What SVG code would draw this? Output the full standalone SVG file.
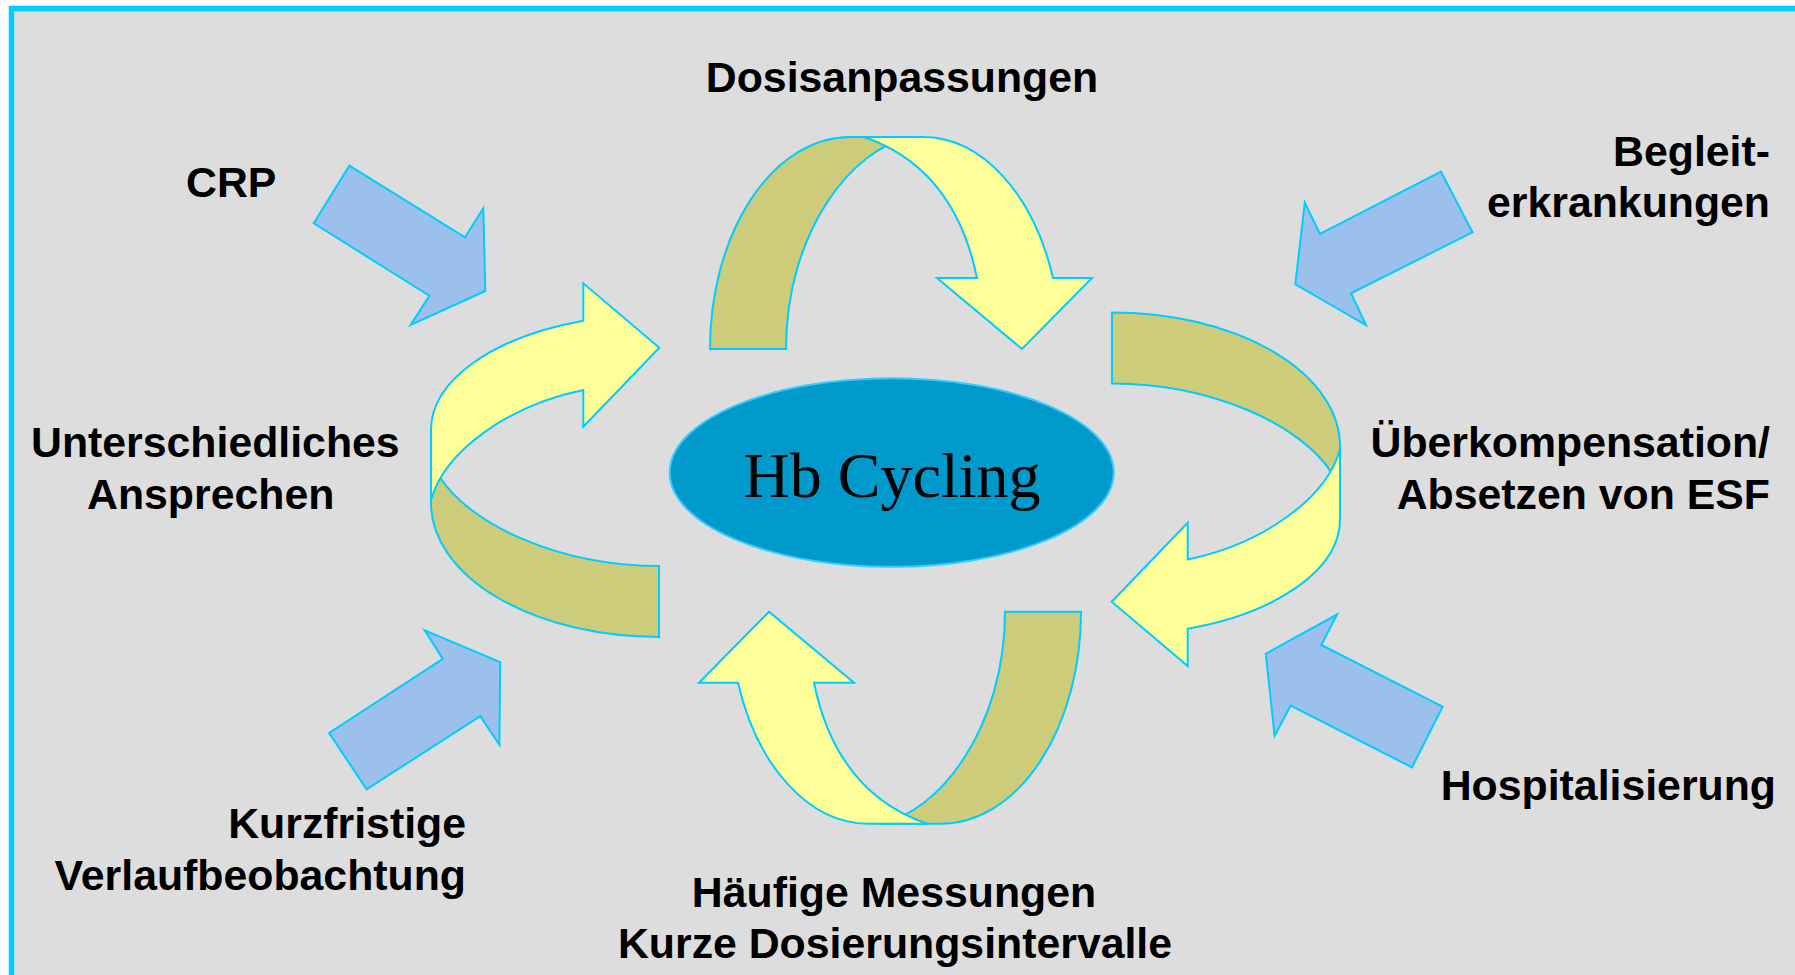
<svg xmlns="http://www.w3.org/2000/svg" width="1795" height="975" viewBox="0 0 1795 975">
<style>
.lbl{font-family:"Liberation Sans",Arial,sans-serif;font-weight:bold;font-size:42.8px;fill:#000000}
.yel{fill:#FFFF99;stroke:#00CCFF;stroke-width:2}
.olv{fill:#CDCC7A;stroke:#00CCFF;stroke-width:2}
.blu{fill:#9BC0EB;stroke:#00CCFF;stroke-width:2}
</style>
<rect width="1795" height="975" fill="#FFFFFF"/>
<rect x="11.5" y="8.5" width="1800" height="1000" fill="#DDDDDD" stroke="#00CCFF" stroke-width="5.5"/>
<g id="connectors">
  <g id="cycle-top">
    <path class="olv" d="M710,349 A140,212 0 0 1 850,137 L912,137 C850,148 786,235 786,349 Z"/>
    <path class="yel" d="M864,137 L923,137 A138,212 0 0 1 1053,278 L1092,278 L1022,349 L937,278 L977,278 C962,205 925,158 864,137 Z"/>
  </g>
  <g id="cycle-bottom" transform="rotate(180 895.5 480.35)">
    <path class="olv" d="M710,349 A140,212 0 0 1 850,137 L912,137 C850,148 786,235 786,349 Z"/>
    <path class="yel" d="M864,137 L923,137 A138,212 0 0 1 1053,278 L1092,278 L1022,349 L937,278 L977,278 C962,205 925,158 864,137 Z"/>
  </g>
  <g id="cycle-left">
    <path class="olv" d="M431,470 L431,503 A228,134 0 0 0 659,637 L659,566 C560,566 470,525 439,476 Z"/>
    <path class="yel" d="M583.3,320.7 L583.3,283.3 L659.3,347.7 L583.3,426.7 L583.3,390 C510,405 445,450 431,500 L431,430 A228,116 0 0 1 583.3,320.7 Z"/>
  </g>
  <g id="cycle-right" transform="rotate(180 885.5 474.7)">
    <path class="olv" d="M431,470 L431,503 A228,134 0 0 0 659,637 L659,566 C560,566 470,525 439,476 Z"/>
    <path class="yel" d="M583.3,320.7 L583.3,283.3 L659.3,347.7 L583.3,426.7 L583.3,390 C510,405 445,450 431,500 L431,430 A228,116 0 0 1 583.3,320.7 Z"/>
  </g>
  <polygon id="arrow-crp" class="blu" points="349.4,165.7 465,237.3 483.3,208.3 485.3,291 410.6,325 429.4,295.7 313.8,223.3"/>
  <polygon id="arrow-begleit" class="blu" points="1441,171.7 1472.5,232.3 1351,293.3 1366,325 1295.3,284.3 1304.8,202.7 1320,234"/>
  <polygon id="arrow-kurzfristig" class="blu" points="424.8,630.3 500.2,662.2 499.4,744.7 480.3,716.1 366.6,789.4 329.1,733 442.8,658.9"/>
  <polygon id="arrow-hospital" class="blu" points="1337,614.5 1321.3,645 1442.6,706.6 1412,767.4 1290.7,705.5 1274.6,735.9 1265.8,653.8"/>
</g>
<g id="hb-cycling">
  <ellipse cx="891.7" cy="472.5" rx="222" ry="94.3" fill="#0099CC" stroke="#33CCFF" stroke-width="2"/>
  <text x="892" y="497" text-anchor="middle" font-family="'Liberation Serif','Times New Roman',serif" font-size="64" fill="#000000">Hb Cycling</text>
</g>
<g id="dosisanpassungen">
  <text class="lbl" x="902" y="92" text-anchor="middle">Dosisanpassungen</text>
</g>
<g id="crp">
  <text class="lbl" x="186" y="197">CRP</text>
</g>
<g id="begleiterkrankungen">
  <text class="lbl" x="1770" y="166" text-anchor="end">Begleit-</text>
  <text class="lbl" x="1770" y="217" text-anchor="end">erkrankungen</text>
</g>
<g id="unterschiedliches-ansprechen">
  <text class="lbl" x="31" y="457">Unterschiedliches</text>
  <text class="lbl" x="87" y="509">Ansprechen</text>
</g>
<g id="ueberkompensation">
  <text class="lbl" x="1770" y="457" text-anchor="end">Überkompensation/</text>
  <text class="lbl" x="1770" y="509" text-anchor="end">Absetzen von ESF</text>
</g>
<g id="hospitalisierung">
  <text class="lbl" x="1776" y="800" text-anchor="end">Hospitalisierung</text>
</g>
<g id="verlaufbeobachtung">
  <text class="lbl" x="466" y="838" text-anchor="end">Kurzfristige</text>
  <text class="lbl" x="466" y="890" text-anchor="end">Verlaufbeobachtung</text>
</g>
<g id="messungen">
  <text class="lbl" x="894" y="907" text-anchor="middle">Häufige Messungen</text>
  <text class="lbl" x="895" y="958" text-anchor="middle">Kurze Dosierungsintervalle</text>
</g>
</svg>
